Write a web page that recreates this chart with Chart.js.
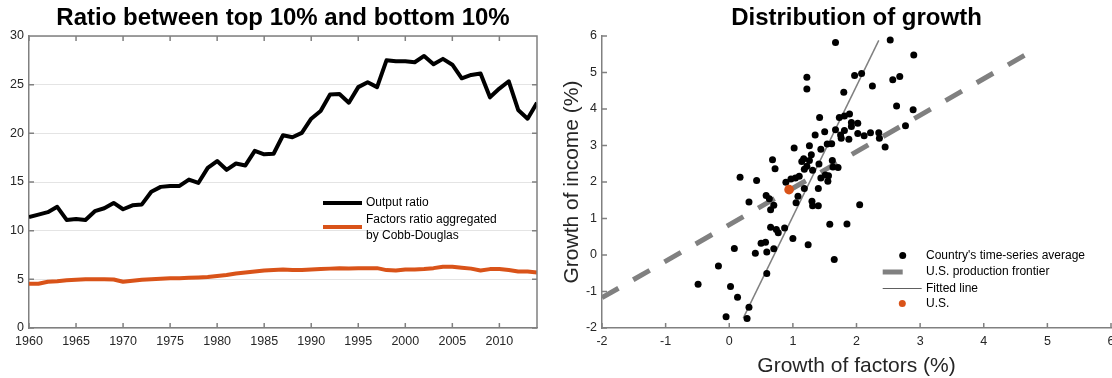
<!DOCTYPE html>
<html>
<head>
<meta charset="utf-8">
<script src="https://cdn.jsdelivr.net/npm/chart.js@4.4.1/dist/chart.umd.min.js"></script>
<style>
  html, body { margin: 0; padding: 0; background: #fff; }
  body { width: 1112px; height: 378px; overflow: hidden; position: relative; }
  canvas { position: absolute; top: 0; }
  #ratio-chart { left: 0; }
  #growth-chart { left: 545px; }
</style>
</head>
<body>
<canvas id="ratio-chart" width="545" height="378"></canvas>
<canvas id="growth-chart" width="580" height="378"></canvas>
<script>
// left panel: ratio between top 10% and bottom 10%
const years = [
  1960, 1961, 1962, 1963, 1964, 1965, 1966, 1967, 1968, 1969,
  1970, 1971, 1972, 1973, 1974, 1975, 1976, 1977, 1978, 1979,
  1980, 1981, 1982, 1983, 1984, 1985, 1986, 1987, 1988, 1989,
  1990, 1991, 1992, 1993, 1994, 1995, 1996, 1997, 1998, 1999,
  2000, 2001, 2002, 2003, 2004, 2005, 2006, 2007, 2008, 2009,
  2010, 2011, 2012, 2013, 2014,
];
const outputRatio = [
  11.4, 11.65, 11.9, 12.45, 11.1, 11.2, 11.1, 12.0, 12.3, 12.85,
  12.2, 12.6, 12.7, 14.0, 14.5, 14.6, 14.6, 15.25, 14.9, 16.45,
  17.15, 16.25, 16.9, 16.7, 18.2, 17.85, 17.9, 19.8, 19.6, 20.05,
  21.5, 22.3, 24.0, 24.05, 23.15, 24.75, 25.25, 24.75, 27.5, 27.4,
  27.4, 27.3, 27.95, 27.1, 27.65, 27.05, 25.65, 26.0, 26.15, 23.7,
  24.6, 25.35, 22.4, 21.5, 23.15,
];
const factorsRatio = [
  4.55, 4.55, 4.75, 4.8, 4.9, 4.95, 5.0, 5.0, 5.0, 4.98,
  4.75, 4.85, 4.95, 5.0, 5.05, 5.1, 5.12, 5.15, 5.2, 5.25,
  5.35, 5.45, 5.6, 5.7, 5.8, 5.9, 5.95, 6.0, 5.95, 5.95,
  6.0, 6.05, 6.1, 6.15, 6.12, 6.15, 6.15, 6.15, 5.95, 5.9,
  6.0, 6.0, 6.05, 6.15, 6.3, 6.3, 6.2, 6.1, 5.9, 6.05,
  6.05, 5.95, 5.8, 5.8, 5.7,
];

// right panel: distribution of growth (country averages, %)
const growthFactors = [
  1.67, 2.53, 2.90, 1.22, 1.22, 1.97, 2.08, 1.80, 2.25, 2.57,
  2.68, 2.63, 2.89, 2.77, 1.42, 1.73, 1.81, 1.89, 1.92, 1.92,
  2.02, 1.50, 1.67, 1.81, 1.35, 1.75, 1.76, 1.88, 2.02, 2.12,
  2.22, 2.35, 2.36, 2.45, 1.02, 1.26, 1.44, 1.54, 1.61, 1.29,
  1.17, 1.14, 1.26, 1.22, 1.18, 1.41, 1.62, 1.63, 1.71, 1.31,
  1.51, 1.56, 1.44, 0.17, 0.43, 0.89, 0.97, 1.04, 1.10, 0.31,
  0.58, 0.63, 0.70, 0.65, 1.05, 1.08, 1.18, 1.30, 1.40, 1.31,
  1.40, 1.55, 2.05, 1.58, 1.85, 1.65, 0.65, 0.74, 0.77, 0.87,
  1.00, 1.24, 0.50, 0.57, 0.08, 0.41, 0.59, 0.70, -0.17, 0.59,
  -0.49, 0.02, 0.13, 0.31, -0.05, 0.28, 0.68, 0.72,
];
const growthIncome = [
  5.82, 5.89, 5.48, 4.87, 4.55, 4.92, 4.97, 4.46, 4.63, 4.80,
  4.89, 4.08, 3.98, 3.54, 3.77, 3.77, 3.81, 3.86, 3.63, 3.52,
  3.61, 3.38, 3.43, 3.41, 3.29, 3.29, 3.20, 3.17, 3.33, 3.27,
  3.35, 3.35, 3.20, 2.96, 2.93, 2.99, 2.90, 3.04, 3.05, 2.75,
  2.64, 2.56, 2.59, 2.43, 2.35, 2.49, 2.59, 2.41, 2.40, 2.32,
  2.19, 2.17, 2.11, 2.13, 2.04, 1.99, 2.08, 2.11, 2.16, 1.45,
  1.63, 1.54, 1.36, 1.24, 1.43, 1.61, 1.82, 1.47, 1.35, 1.35,
  1.82, 2.02, 1.38, 0.84, 0.85, -0.12, 0.76, 0.70, 0.61, 0.74,
  0.45, 0.28, 0.32, 0.35, 0.18, 0.05, 0.08, 0.17, -0.30, -0.51,
  -0.80, -0.86, -1.16, -1.43, -1.69, -1.74, 2.61, 2.36,
];
const usFactors = [0.94];
const usIncome = [1.79];
const frontierX = [-2, 4.83];
const frontierY = [-1.17, 5.66];
const fittedX = [0.22, 2.35];
const fittedY = [-1.73, 5.88];

const FONT = "'Liberation Sans', Arial, Helvetica, sans-serif";
const AXIS_COLOR = "#808080";
const TEXT_COLOR = "#262626";
const ORANGE = "#D95319";

Chart.defaults.font.family = FONT;
Chart.defaults.color = TEXT_COLOR;

const pts = (xs, ys) => xs.map((x, i) => ({ x, y: ys[i] }));

// MATLAB-style inward ticks, optional full box
const axisBox = {
  id: "axisBox",
  afterDraw(chart, args, opts) {
    const { ctx, chartArea: a, scales: { x, y } } = chart;
    const tl = 5;
    ctx.save();
    ctx.strokeStyle = AXIS_COLOR;
    ctx.lineWidth = 1.5;
    ctx.beginPath();
    if (opts.box) {
      ctx.moveTo(a.left, a.top);
      ctx.lineTo(a.right, a.top);
      ctx.lineTo(a.right, a.bottom);
    }
    x.ticks.forEach((t) => {
      const px = x.getPixelForValue(t.value);
      ctx.moveTo(px, a.bottom);
      ctx.lineTo(px, a.bottom - tl);
      if (opts.box) {
        ctx.moveTo(px, a.top);
        ctx.lineTo(px, a.top + tl);
      }
    });
    y.ticks.forEach((t) => {
      const py = y.getPixelForValue(t.value);
      ctx.moveTo(a.left, py);
      ctx.lineTo(a.left + tl, py);
      if (opts.box) {
        ctx.moveTo(a.right, py);
        ctx.lineTo(a.right - tl, py);
      }
    });
    ctx.stroke();
    ctx.restore();
  },
};

// hand-drawn legend (multi-line labels, MATLAB look)
const boxLegend = {
  id: "boxLegend",
  afterDraw(chart, args, opts) {
    const { ctx } = chart;
    ctx.save();
    ctx.font = `12px ${FONT}`;
    ctx.fillStyle = "#000";
    ctx.textBaseline = "middle";
    ctx.textAlign = "left";
    opts.items.forEach((it) => {
      if (it.kind === "line") {
        ctx.beginPath();
        ctx.strokeStyle = it.color;
        ctx.lineWidth = it.width;
        ctx.moveTo(it.x0, it.y);
        ctx.lineTo(it.x1, it.y);
        ctx.stroke();
      } else if (it.kind === "dot") {
        ctx.beginPath();
        ctx.fillStyle = it.color;
        ctx.arc(it.x0, it.y, it.r, 0, Math.PI * 2);
        ctx.fill();
        ctx.fillStyle = "#000";
      }
      it.text.forEach((line, i) => {
        ctx.fillText(line, opts.textX, it.ty + i * 16);
      });
    });
    ctx.restore();
  },
};

new Chart(document.getElementById("ratio-chart"), {
  type: "line",
  data: {
    datasets: [
      {
        label: "Output ratio",
        data: pts(years, outputRatio),
        borderColor: "#000",
        borderWidth: 4,
        pointRadius: 0,
        tension: 0,
        borderJoinStyle: "round",
      },
      {
        label: "Factors ratio aggregated by Cobb-Douglas",
        data: pts(years, factorsRatio),
        borderColor: ORANGE,
        borderWidth: 4,
        pointRadius: 0,
        tension: 0,
        borderJoinStyle: "round",
      },
    ],
  },
  options: {
    responsive: false,
    animation: false,
    layout: { padding: { left: 0, right: 8, top: 0, bottom: 0 } },
    scales: {
      x: {
        type: "linear",
        min: 1960,
        max: 2014,
        afterFit: (s) => { s.height = 50; },
        ticks: {
          stepSize: 5,
          includeBounds: false,
          maxRotation: 0,
          padding: 6,
          font: { size: 12.5 },
          callback: (v) => String(v),
        },
        grid: { display: false, drawTicks: false },
        border: { display: true, color: AXIS_COLOR, width: 1.5 },
      },
      y: {
        min: 0,
        max: 30,
        afterFit: (s) => { s.width = 29; },
        ticks: { stepSize: 5, padding: 5, font: { size: 12.5 } },
        grid: { color: "#e4e4e4", lineWidth: 1, drawTicks: false },
        border: { display: true, color: AXIS_COLOR, width: 1.5 },
      },
    },
    plugins: {
      legend: { display: false },
      tooltip: { enabled: false },
      title: {
        display: true,
        fullSize: false,
        text: "Ratio between top 10% and bottom 10%",
        color: "#000",
        font: { size: 24, weight: "bold", lineHeight: 1.2 },
        padding: { top: 3.9, bottom: 3.3 },
      },
      axisBox: { box: true },
      boxLegend: {
        textX: 366,
        items: [
          { kind: "line", color: "#000", width: 4, x0: 323, x1: 362, y: 203, ty: 203, text: ["Output ratio"] },
          { kind: "line", color: ORANGE, width: 4, x0: 323, x1: 362, y: 227, ty: 220, text: ["Factors ratio aggregated", "by Cobb-Douglas"] },
        ],
      },
    },
  },
  plugins: [axisBox, boxLegend],
});

new Chart(document.getElementById("growth-chart"), {
  type: "scatter",
  data: {
    datasets: [
      {
        label: "Country's time-series average",
        data: pts(growthFactors, growthIncome),
        backgroundColor: "#000",
        borderWidth: 0,
        pointRadius: 3.5,
        order: 1,
      },
      {
        label: "U.S. production frontier",
        type: "line",
        data: pts(frontierX, frontierY),
        borderColor: "#808080",
        borderWidth: 5,
        borderDash: [19, 17],
        pointRadius: 0,
        order: 3,
      },
      {
        label: "Fitted line",
        type: "line",
        data: pts(fittedX, fittedY),
        borderColor: "#808080",
        borderWidth: 1.5,
        pointRadius: 0,
        order: 2,
      },
      {
        label: "U.S.",
        data: pts(usFactors, usIncome),
        backgroundColor: ORANGE,
        borderWidth: 0,
        pointRadius: 4.8,
        order: 0,
      },
    ],
  },
  options: {
    responsive: false,
    animation: false,
    layout: { padding: { left: 0, right: 14, top: 0, bottom: 0 } },
    scales: {
      x: {
        type: "linear",
        min: -2,
        max: 6,
        afterFit: (s) => { s.height = 50; },
        ticks: { stepSize: 1, padding: 6, maxRotation: 0, font: { size: 12.5 } },
        grid: { display: false, drawTicks: false },
        border: { display: true, color: AXIS_COLOR, width: 1.5 },
        title: {
          display: true,
          text: "Growth of factors (%)",
          font: { size: 21, lineHeight: 1 },
          color: TEXT_COLOR,
          padding: { top: 0, bottom: 0.8 },
        },
      },
      y: {
        min: -2,
        max: 6,
        afterFit: (s) => { s.width = 57; },
        ticks: { stepSize: 1, padding: 5, font: { size: 12.5 } },
        grid: { display: false, drawTicks: false },
        border: { display: true, color: AXIS_COLOR, width: 1.5 },
        title: {
          display: true,
          text: "Growth of income (%)",
          font: { size: 21, lineHeight: 1 },
          color: TEXT_COLOR,
          padding: { top: 16.5, bottom: 0 },
        },
      },
    },
    plugins: {
      legend: { display: false },
      tooltip: { enabled: false },
      title: {
        display: true,
        fullSize: false,
        text: "Distribution of growth",
        color: "#000",
        font: { size: 24, weight: "bold", lineHeight: 1.2 },
        padding: { top: 3.9, bottom: 3.3 },
      },
      axisBox: { box: false },
      boxLegend: {
        textX: 381,
        items: [
          { kind: "dot", color: "#000", r: 3.5, x0: 357.7, y: 255.5, ty: 255.5, text: ["Country's time-series average"] },
          { kind: "line", color: "#808080", width: 5, x0: 337.7, x1: 357.7, y: 272, ty: 272, text: ["U.S. production frontier"] },
          { kind: "line", color: "#606060", width: 1, x0: 337.7, x1: 376.7, y: 288.5, ty: 288.5, text: ["Fitted line"] },
          { kind: "dot", color: ORANGE, r: 3.5, x0: 357.3, y: 303.5, ty: 304, text: ["U.S."] },
        ],
      },
    },
  },
  plugins: [axisBox, boxLegend],
});
</script>
</body>
</html>
